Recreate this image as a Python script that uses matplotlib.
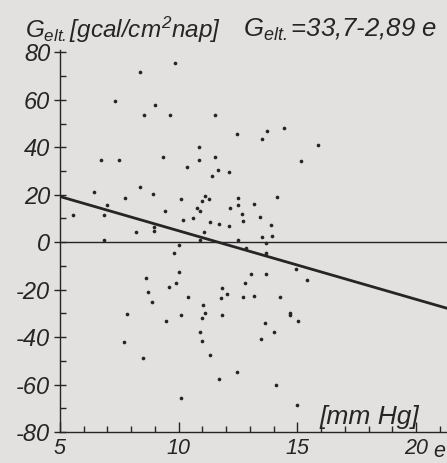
import numpy as np
import matplotlib
matplotlib.use("Agg")
import matplotlib.pyplot as plt
from matplotlib.ticker import MultipleLocator

# vapour pressure e [mm Hg] and G_elt. [gcal/cm2 nap]
e_vals = [9.86, 8.39, 7.32, 9.00, 8.54, 9.65, 11.55, 12.47, 13.53, 13.71,
          14.45, 15.85, 10.84, 6.75, 7.49, 9.33, 10.84, 11.51, 15.15, 10.34,
          11.64, 12.13, 11.40, 6.44, 8.39, 8.94, 7.73, 10.11, 11.11, 11.26,
          11.00, 12.49, 14.16, 12.52, 13.16, 7.00, 10.77, 10.91, 12.18, 9.41,
          5.55, 6.84, 12.66, 13.42, 10.60, 10.20, 12.73, 11.30, 11.72, 12.10,
          13.91, 8.97, 8.97, 8.22, 11.08, 13.50, 13.94, 6.86, 10.90, 12.48,
          13.68, 10.01, 12.84, 9.79, 13.68, 10.00, 14.93, 13.03, 13.67, 8.61,
          15.42, 12.80, 9.89, 9.58, 11.81, 12.05, 8.70, 10.41, 11.78, 12.70,
          13.16, 14.27, 8.87, 11.01, 7.82, 10.10, 11.84, 11.10, 11.00, 9.48,
          13.63, 14.70, 14.70, 15.03, 10.88, 14.03, 7.72, 10.97, 13.45, 8.49,
          11.32, 12.45, 11.72, 14.09, 10.10, 14.99]
g_vals = [75.7, 71.8, 59.7, 57.7, 53.8, 53.8, 53.6, 45.7, 43.6, 46.7,
          48.1, 41.1, 40.2, 34.6, 34.7, 36.1, 34.6, 35.8, 34.2, 31.8,
          30.3, 29.4, 28.0, 21.3, 23.4, 20.5, 18.8, 18.0, 19.5, 18.0,
          17.2, 18.8, 19.2, 15.8, 16.3, 15.5, 14.6, 13.3, 14.4, 13.3,
          11.6, 11.6, 12.0, 10.6, 10.2, 9.2, 9.1, 8.7, 7.7, 7.0,
          7.3, 6.5, 4.8, 4.5, 4.5, 2.1, 2.5, 1.1, 1.0, 1.1,
          -0.3, -1.4, -2.6, -4.5, -4.6, -12.6, -11.4, -13.5, -13.5, -15.1,
          -15.9, -17.0, -17.4, -18.7, -19.4, -21.9, -21.2, -22.9, -23.6, -23.3,
          -22.7, -22.9, -25.4, -26.5, -30.3, -30.8, -30.5, -29.7, -32.1, -33.2,
          -33.9, -29.7, -30.7, -33.3, -37.7, -37.7, -42.0, -41.8, -41.0, -48.7,
          -47.7, -54.8, -57.7, -60.0, -65.6, -68.5]

# regression G = a + b*e
fit_a = 33.7
fit_b = -2.89

x_ticks = [5, 10, 15, 20]
y_ticks = [-80, -60, -40, -20, 0, 20, 40, 60, 80]

bg = "#e3e0e0"
ink = "#262424"

plt.rcParams["font.family"] = ["Liberation Sans", "DejaVu Sans"]
plt.rcParams["font.style"] = "italic"
plt.rcParams["mathtext.fontset"] = "custom"
plt.rcParams["mathtext.rm"] = "Liberation Sans:italic"
plt.rcParams["mathtext.it"] = "Liberation Sans:italic"
plt.rcParams["mathtext.sf"] = "Liberation Sans:italic"
plt.rcParams["axes.unicode_minus"] = False

fig = plt.figure(figsize=(4.47, 4.63), dpi=100, facecolor=bg)
ax = fig.add_axes([0.134, 0.067, 0.866, 0.825], facecolor=bg)

ax.scatter(e_vals, g_vals, s=7, color=ink, linewidths=0, zorder=3)

xmin, xmax = 5, 21.3
xs = np.array([xmin, xmax])
ax.plot(xs, fit_a + fit_b * xs, color=ink, lw=2.0, zorder=2)
ax.axhline(0, color=ink, lw=1.0, zorder=1)

ax.set_xlim(xmin, xmax)
ax.set_ylim(-80, 81)
ax.set_xticks(x_ticks)
ax.set_yticks(y_ticks)
ax.xaxis.set_minor_locator(MultipleLocator(1))
ax.yaxis.set_minor_locator(MultipleLocator(10))

for s in ["top", "right"]:
    ax.spines[s].set_visible(False)
for s in ["left", "bottom"]:
    ax.spines[s].set_color(ink)
    ax.spines[s].set_linewidth(1.0)

ax.tick_params(axis="x", which="major", direction="in", length=7, width=1,
               color=ink, labelsize=15.5, labelcolor=ink, pad=4)
ax.tick_params(axis="x", which="minor", direction="in", length=4, width=1, color=ink)
ax.tick_params(axis="y", which="major", direction="inout", length=8, width=1,
               color=ink, labelsize=17, labelcolor=ink, pad=3)
ax.tick_params(axis="y", which="minor", direction="in", length=4, width=1, color=ink)

fig.text(0.055, 0.935, r"$G_{elt.}[gcal/cm^{2}nap]$", fontsize=17.5, color=ink,
         ha="left", va="center")
fig.text(0.543, 0.935, r"$G_{elt.}$=33,7-2,89 e", fontsize=18.5, color=ink,
         ha="left", va="center")
fig.text(0.715, 0.10, "[mm Hg]", fontsize=19, color=ink, ha="left", va="center")
fig.text(0.983, 0.025, "e", fontsize=15.5, color=ink, ha="center", va="center")

fig.savefig("out.png", dpi=100, facecolor=bg)
